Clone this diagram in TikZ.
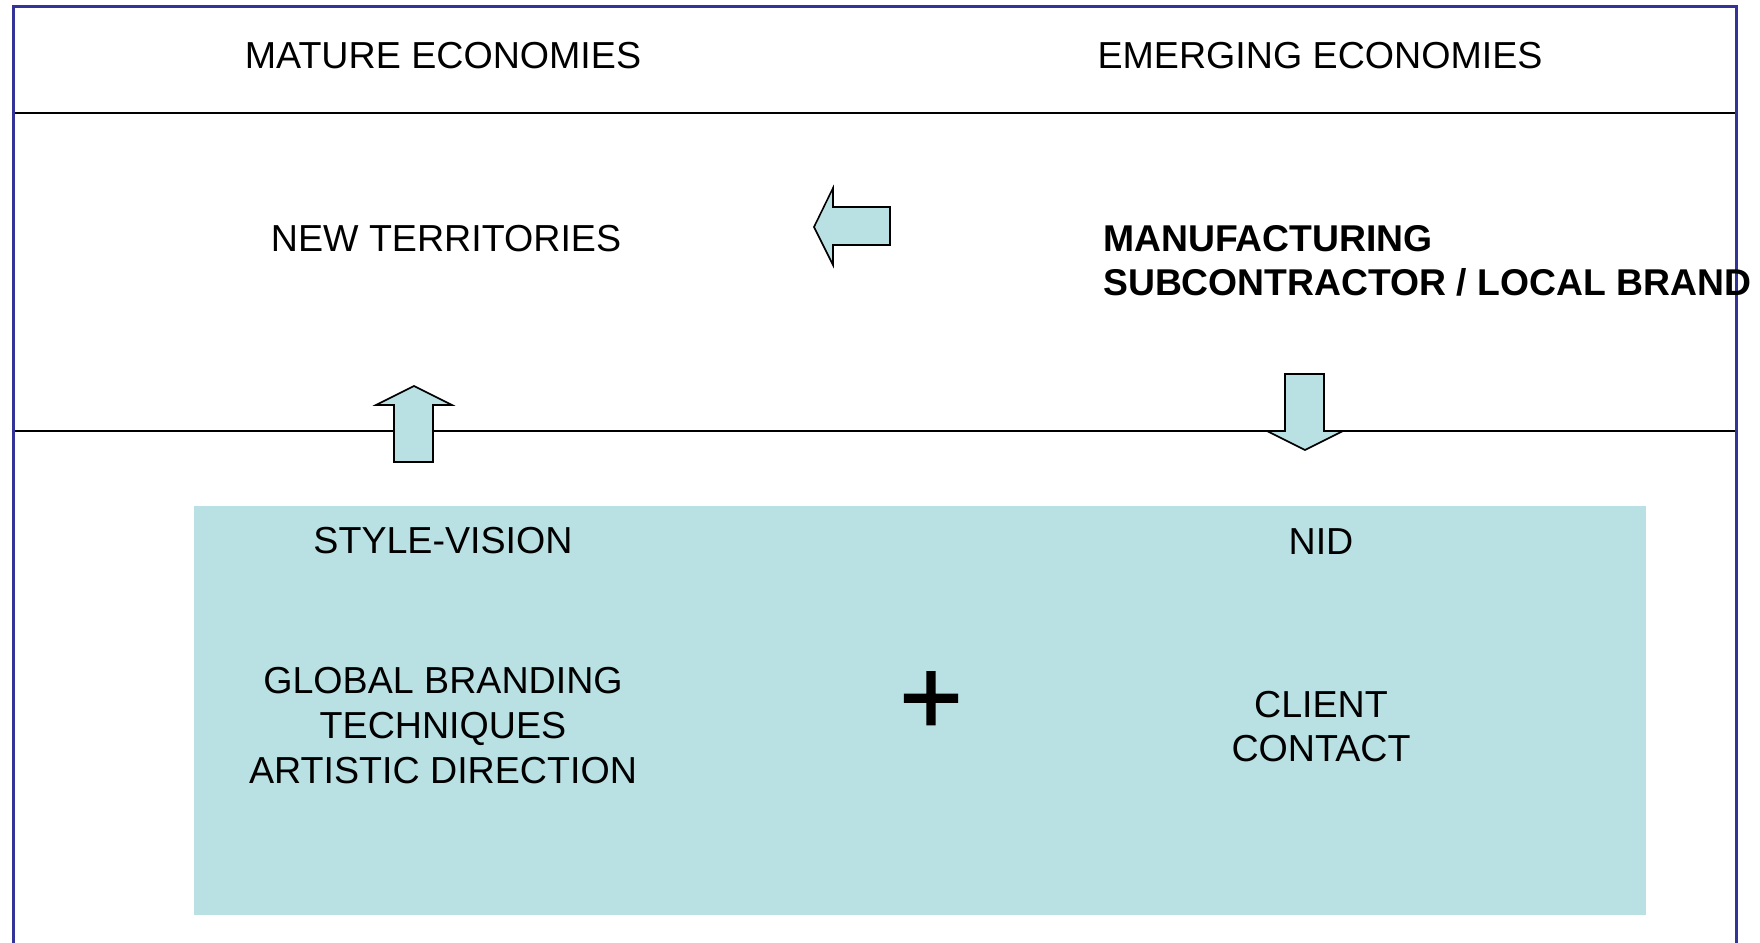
\documentclass[tikz,border=0pt]{standalone}
\usepackage{fontspec}
\setmainfont{Liberation Sans}
\definecolor{frameblue}{HTML}{333399}
\definecolor{paleteal}{HTML}{B9E0E3}
\tikzset{
  lbl/.style={anchor=base, inner sep=0pt, font=\fontsize{37.6}{44}\selectfont},
  blbl/.style={anchor=base west, inner sep=0pt, font=\fontsize{37.3}{44}\selectfont\bfseries},
  blockarrow/.style={draw=black, line width=1.6pt, fill=paleteal, line join=miter},
  rule/.style={draw=black, line width=2pt},
}
\begin{document}
\begin{tikzpicture}[x=1pt,y=-1pt]
\clip (0,0) rectangle (1760,942);
\fill[white] (0,0) rectangle (1760,942);
% teal block
\fill[paleteal] (194,506) rectangle (1646,915);
% rules
\draw[rule] (13,113) -- (1736,113);
\draw[rule] (13,431) -- (1736,431);
% frame
\draw[frameblue, line width=3pt] (13,980) -- (13,7) -- (1736,7) -- (1736,980);
% block arrows
\draw[blockarrow] (814,227) -- (833,188) -- (833,207) -- (890,207) -- (890,245) -- (833,245) -- (833,265) -- cycle;
\draw[blockarrow] (414,386) -- (452,405) -- (433,405) -- (433,462) -- (394,462) -- (394,405) -- (376,405) -- cycle;
\draw[blockarrow] (1305,450) -- (1343,431) -- (1324,431) -- (1324,374) -- (1285,374) -- (1285,431) -- (1267,431) -- cycle;
% texts
\node[lbl] (mature) at (443,69) {MATURE ECONOMIES};
\node[lbl] (emerging) at (1320,69) {EMERGING ECONOMIES};
\node[lbl] (newterr) at (446,251) {NEW TERRITORIES};
\node[blbl] (manuf) at (1103,251) {MANUFACTURING};
\node[blbl] (subc) at (1103,295) {SUBCONTRACTOR / LOCAL BRAND};
\node[lbl] (style) at (443,553) {STYLE-VISION};
\node[lbl] (nid) at (1321,554) {NID};
\node[lbl] (glob) at (443,693) {GLOBAL BRANDING};
\node[lbl] (tech) at (443,738) {TECHNIQUES};
\node[lbl] (art) at (443,783) {ARTISTIC DIRECTION};
\node[lbl] (client) at (1321,717) {CLIENT};
\node[lbl] (contact) at (1321,761) {CONTACT};
\node[inner sep=0pt, font=\fontsize{108}{108}\selectfont\addfontfeature{FakeBold=1.5}] (plus) at (931,703) {+};
\end{tikzpicture}
\end{document}
